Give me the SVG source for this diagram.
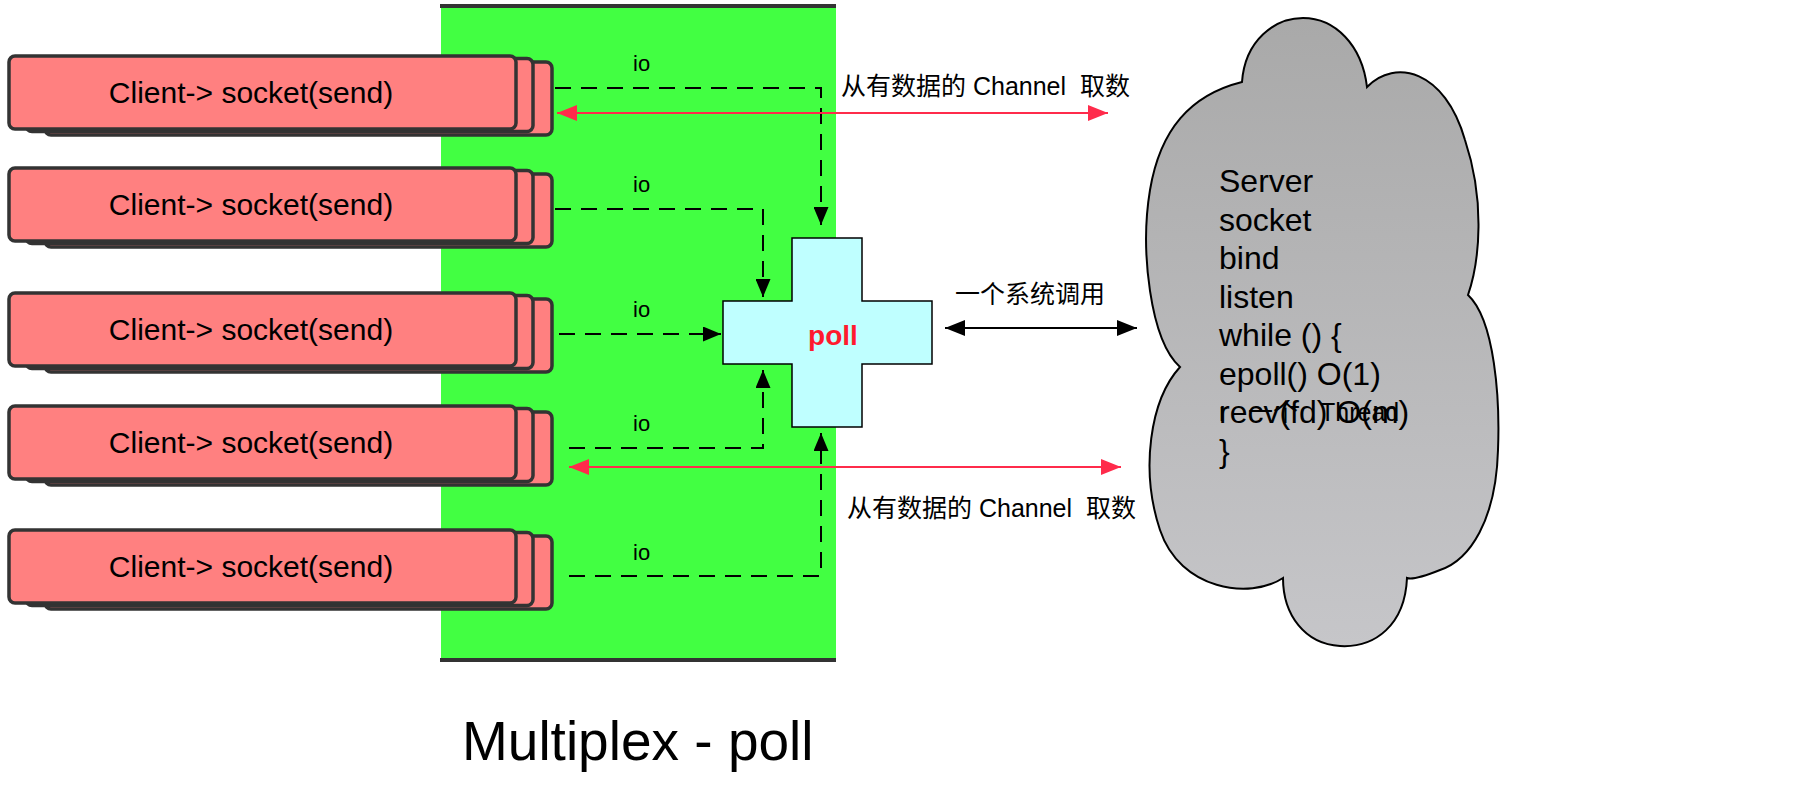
<svg xmlns="http://www.w3.org/2000/svg" width="1806" height="785" viewBox="0 0 1806 785">
<defs>
<style>
.txt{font-family:"Liberation Sans",Arial,"Noto Sans CJK SC",sans-serif;fill:#000}
.cli{fill:#FF8080;stroke:#333;stroke-width:3.5}
.dash{fill:none;stroke:#000;stroke-width:2;stroke-dasharray:16 10}
.red{fill:none;stroke:#FF2B4B;stroke-width:2}
.blk{fill:none;stroke:#000;stroke-width:2}
</style>
<marker id="ah" markerUnits="userSpaceOnUse" markerWidth="18" markerHeight="15" refX="18" refY="7.5" orient="auto"><path d="M0,0 L18,7.5 L0,15 z" fill="#000"/></marker>
<marker id="ahb" markerUnits="userSpaceOnUse" markerWidth="20" markerHeight="16" refX="20" refY="8" orient="auto-start-reverse"><path d="M0,0 L20,8 L0,16 z" fill="#000"/></marker>
<marker id="ahr" markerUnits="userSpaceOnUse" markerWidth="20" markerHeight="16" refX="20" refY="8" orient="auto-start-reverse"><path d="M0,0 L20,8 L0,16 z" fill="#FF2B4B"/></marker>
<linearGradient id="cg" x1="0" y1="0" x2="0" y2="1"><stop offset="0" stop-color="#A9A9A9"/><stop offset="1" stop-color="#C6C6C9"/></linearGradient>
<g id="stack"><rect x="45" y="6" width="507" height="73" rx="6" class="cli"/><rect x="26" y="2.5" width="507" height="73" rx="6" class="cli"/><rect x="9" y="0" width="507" height="73" rx="6" class="cli"/></g>
</defs>
<rect width="1806" height="785" fill="#fff"/>
<g id="multiplexer">
<rect x="441" y="6" width="395" height="654" fill="#42FF42"/>
<line x1="440" y1="6" x2="836" y2="6" stroke="#333" stroke-width="4"/>
<line x1="440" y1="660" x2="836" y2="660" stroke="#333" stroke-width="4"/>
</g>
<g id="client1"><use href="#stack" y="56"/><text class="txt" x="251" y="103" font-size="30" text-anchor="middle">Client-&gt; socket(send)</text></g>
<g id="client2"><use href="#stack" y="168"/><text class="txt" x="251" y="215" font-size="30" text-anchor="middle">Client-&gt; socket(send)</text></g>
<g id="client3"><use href="#stack" y="293"/><text class="txt" x="251" y="340" font-size="30" text-anchor="middle">Client-&gt; socket(send)</text></g>
<g id="client4"><use href="#stack" y="406"/><text class="txt" x="251" y="453" font-size="30" text-anchor="middle">Client-&gt; socket(send)</text></g>
<g id="client5"><use href="#stack" y="530"/><text class="txt" x="251" y="577" font-size="30" text-anchor="middle">Client-&gt; socket(send)</text></g>
<g id="poll">
<path d="M792,238 H862 V301 H932 V364 H862 V427 H792 V364 H723 V301 H792 Z" fill="#BFFFFF" stroke="#000" stroke-width="1.5"/>
<text x="833" y="345" font-size="28" font-weight="bold" text-anchor="middle" font-family="Liberation Sans,Arial,sans-serif" fill="#FF1A2E">poll</text>
</g>
<g id="server">
<path d="M1242,82 C1245,40 1275,18 1303,18 C1335,18 1362,45 1367,87 C1395,58 1445,70 1465,140 C1485,200 1480,260 1468,295 C1495,320 1500,400 1498,450 C1496,520 1470,560 1440,570 C1425,576 1412,580 1407,578 C1405,625 1375,648 1340,646 C1305,644 1283,615 1283,578 C1250,600 1180,590 1160,530 C1140,470 1150,400 1180,367 C1150,340 1140,250 1150,190 C1160,130 1190,95 1242,82 Z" fill="url(#cg)" stroke="#000" stroke-width="2"/>
<text class="txt" font-size="32"><tspan x="1219" y="192">Server</tspan><tspan x="1219" y="230.5">socket</tspan><tspan x="1219" y="269">bind</tspan><tspan x="1219" y="307.5">listen</tspan><tspan x="1219" y="346">while () {</tspan><tspan x="1219" y="384.5">epoll() O(1)</tspan><tspan x="1219" y="423">recv(fd) O(m)</tspan><tspan x="1219" y="461.5">}</tspan></text>
<text class="txt" font-size="25" y="421"><tspan x="1219">r</tspan><tspan x="1248">一个</tspan><tspan x="1320">Thread</tspan></text>
</g>
<g id="connectors">
<path class="dash" d="M555,88 H821 V225" marker-end="url(#ah)"/>
<path class="dash" d="M555,209 H763 V297" marker-end="url(#ah)"/>
<path class="dash" d="M559,334 H721" marker-end="url(#ah)"/>
<path class="dash" d="M569,448 H763 V370" marker-end="url(#ah)"/>
<path class="dash" d="M569,576 H821 V433" marker-end="url(#ah)"/>
<line class="red" x1="557" y1="113" x2="1108" y2="113" marker-start="url(#ahr)" marker-end="url(#ahr)"/>
<line class="red" x1="569" y1="467" x2="1121" y2="467" marker-start="url(#ahr)" marker-end="url(#ahr)"/>
<line class="blk" x1="945" y1="328" x2="1137" y2="328" marker-start="url(#ahb)" marker-end="url(#ahb)"/>
<text class="txt" font-size="22" x="633" y="71">io</text>
<text class="txt" font-size="22" x="633" y="192">io</text>
<text class="txt" font-size="22" x="633" y="317">io</text>
<text class="txt" font-size="22" x="633" y="431">io</text>
<text class="txt" font-size="22" x="633" y="560">io</text>
<text class="txt" font-size="25" x="841" y="95" xml:space="preserve">从有数据的 Channel  取数</text>
<text class="txt" font-size="25" x="847" y="517" xml:space="preserve">从有数据的 Channel  取数</text>
<text class="txt" font-size="25" x="955" y="303">一个系统调用</text>
</g>
<text class="txt" font-size="55" x="462" y="760">Multiplex - poll</text>
</svg>
